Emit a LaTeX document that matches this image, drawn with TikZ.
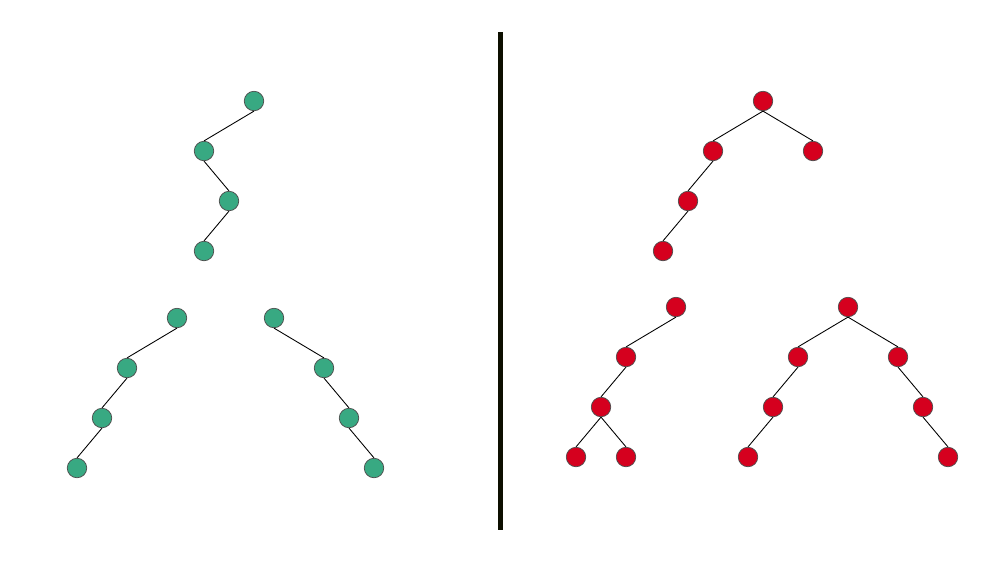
\documentclass[tikz,border=0pt]{standalone}
\definecolor{gnode}{HTML}{38A982}
\definecolor{rnode}{HTML}{D5001E}
\definecolor{bar}{HTML}{0D0F00}
\begin{document}
\begin{tikzpicture}[x=0.02cm,y=-0.02cm,
  gn/.style={circle,draw=black!70,line width=0.4pt,fill=gnode,minimum size=0.39cm,inner sep=0pt},
  rn/.style={circle,draw=black!70,line width=0.4pt,fill=rnode,minimum size=0.39cm,inner sep=0pt},
  edge/.style={draw=black,line width=0.5pt}]
\useasboundingbox (0,0) rectangle (1000,562);
\fill[white] (0,0) rectangle (1000,562);
% divider
\coordinate (t) at (500.5,32);
\coordinate (b) at (500.5,530);
\draw[bar,line width=0.1cm] (t) -- (b);
% green trees
\node[gn] (g1) at (254,101) {};
\node[gn] (g2) at (204,151) {};
\node[gn] (g3) at (229,201) {};
\node[gn] (g4) at (204,251) {};
\node[gn] (h1) at (177,318) {};
\node[gn] (h2) at (127,368) {};
\node[gn] (h3) at (102,418) {};
\node[gn] (h4) at (77,468) {};
\node[gn] (k1) at (274,318) {};
\node[gn] (k2) at (324,368) {};
\node[gn] (k3) at (349,418) {};
\node[gn] (k4) at (374,468) {};
\draw[edge] (g1.south)--(g2.north) (g2.south)--(g3.north) (g3.south)--(g4.north);
\draw[edge] (h1.south)--(h2.north) (h2.south)--(h3.north) (h3.south)--(h4.north);
\draw[edge] (k1.south)--(k2.north) (k2.south)--(k3.north) (k3.south)--(k4.north);
% red trees
\node[rn] (r1) at (763,101) {};
\node[rn] (r2) at (713,151) {};
\node[rn] (r3) at (813,151) {};
\node[rn] (r4) at (688,201) {};
\node[rn] (r5) at (663,251) {};
\draw[edge] (r1.south)--(r2.north) (r1.south)--(r3.north) (r2.south)--(r4.north) (r4.south)--(r5.north);
\node[rn] (s1) at (676,307) {};
\node[rn] (s2) at (626,357) {};
\node[rn] (s3) at (601,407) {};
\node[rn] (s4) at (576,457) {};
\node[rn] (s5) at (626,457) {};
\draw[edge] (s1.south)--(s2.north) (s2.south)--(s3.north) (s3.south)--(s4.north) (s3.south)--(s5.north);
\node[rn] (u1) at (848,307) {};
\node[rn] (u2) at (798,357) {};
\node[rn] (u3) at (898,357) {};
\node[rn] (u4) at (773,407) {};
\node[rn] (u5) at (748,457) {};
\node[rn] (u6) at (923,407) {};
\node[rn] (u7) at (948,457) {};
\draw[edge] (u1.south)--(u2.north) (u1.south)--(u3.north) (u2.south)--(u4.north) (u4.south)--(u5.north) (u3.south)--(u6.north) (u6.south)--(u7.north);
\end{tikzpicture}
\end{document}
